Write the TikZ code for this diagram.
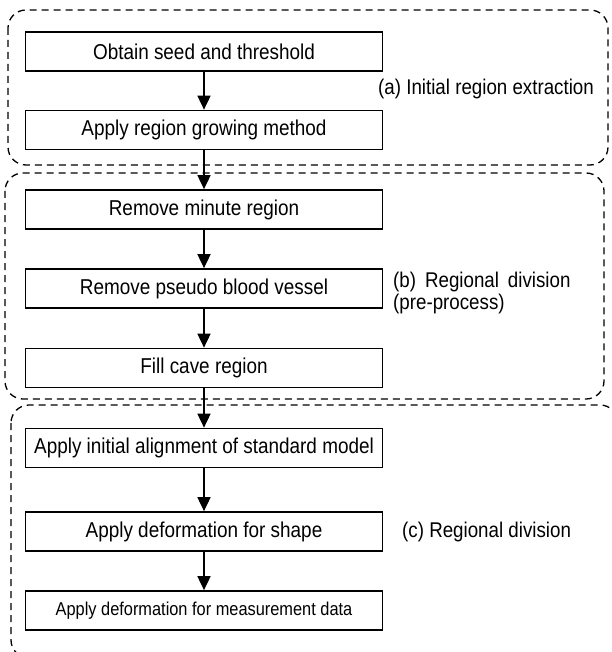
\documentclass[tikz,border=0pt]{standalone}
\usepackage{fontspec}
\setmainfont[FakeStretch=0.88]{Liberation Sans}
\usetikzlibrary{arrows.meta}
\begin{document}
\begin{tikzpicture}[x=1pt,y=-1pt,
  stepbox/.style={draw,line width=1.7pt,minimum width=357pt,minimum height=39pt,inner sep=0pt,font=\fontsize{21.5}{24}\selectfont},
  region/.style={draw,line width=1.3pt,dash pattern=on 7pt off 5pt,rounded corners=18pt},
  note/.style={anchor=west,inner sep=0pt,align=left,font=\fontsize{21.3}{22}\selectfont},
  flow/.style={line width=1.7pt,-{Triangle[width=13pt,length=14pt]}}]
\clip (0,0) rectangle (611,652);
\draw[region] (8,10) rectangle (608,165);
\draw[region] (5,173) rectangle (604,399);
\draw[region] (11,405) rectangle (618,658);
\node[stepbox] (seed) at (204,51.5) {Obtain seed and threshold};
\node[stepbox] (grow) at (204,130) {Apply region growing method};
\node[stepbox] (minute) at (204,209.5) {Remove minute region};
\node[stepbox] (pseudo) at (204,288.5) {Remove pseudo blood vessel};
\node[stepbox] (cave) at (204,368) {Fill cave region};
\node[stepbox] (align) at (204,448) {Apply initial alignment of standard model};
\node[stepbox] (shape) at (204,531.5) {Apply deformation for shape};
\node[stepbox,font=\fontsize{18.6}{22}\selectfont] (meas) at (204,610.5) {Apply deformation for measurement data};
\node[note] (laba) at (378,89) {(a) Initial region extraction};
\node[note] (labb) at (393,293) {(b)\hspace{0.42em}Regional\hspace{0.42em}division\\(pre-process)};
\node[note] (labc) at (402,532) {(c) Regional division};
\foreach \a/\b in {seed/grow,grow/minute,minute/pseudo,pseudo/cave,cave/align,align/shape,shape/meas}
  \draw[flow] (\a) -- (\b);
\end{tikzpicture}
\end{document}
